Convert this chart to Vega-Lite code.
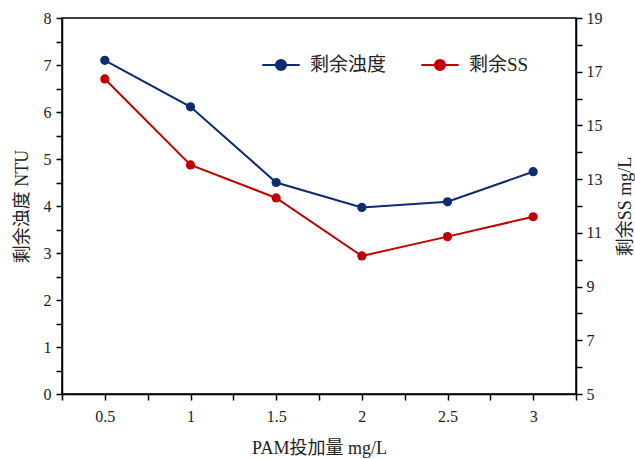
{
  "$schema": "https://vega.github.io/schema/vega-lite/v6.json",
  "width": 514,
  "height": 376,
  "autosize": {"type": "none"},
  "padding": {"left": 62, "top": 18, "right": 59, "bottom": 65},
  "background": "white",
  "config": {
    "font": "Liberation Serif, Noto Sans CJK SC",
    "view": {"stroke": "black", "strokeWidth": 1.5},
    "axis": {
      "domainColor": "black",
      "tickColor": "black",
      "labelColor": "#222222",
      "titleColor": "#222222",
      "labelFontSize": 16,
      "titleFontSize": 18,
      "titleFontWeight": "normal",
      "grid": false,
      "tickSize": 6,
      "domainWidth": 1.5,
      "tickWidth": 1.5,
      "labelFont": "Liberation Serif",
      "titleFont": "Liberation Serif, Noto Sans CJK SC"
    },
    "legend": {
      "labelFont": "Liberation Serif, Noto Sans CJK SC",
      "labelFontSize": 19,
      "labelColor": "#222222"
    }
  },
  "data": {
    "values": [
      {"dose": 0.5, "series": "剩余浊度", "value": 7.10},
      {"dose": 1.0, "series": "剩余浊度", "value": 6.11},
      {"dose": 1.5, "series": "剩余浊度", "value": 4.50},
      {"dose": 2.0, "series": "剩余浊度", "value": 3.97},
      {"dose": 2.5, "series": "剩余浊度", "value": 4.09},
      {"dose": 3.0, "series": "剩余浊度", "value": 4.73},
      {"dose": 0.5, "series": "剩余SS", "value": 16.73},
      {"dose": 1.0, "series": "剩余SS", "value": 13.53},
      {"dose": 1.5, "series": "剩余SS", "value": 12.30},
      {"dose": 2.0, "series": "剩余SS", "value": 10.14},
      {"dose": 2.5, "series": "剩余SS", "value": 10.86},
      {"dose": 3.0, "series": "剩余SS", "value": 11.60}
    ]
  },
  "encoding": {
    "x": {
      "field": "dose",
      "type": "quantitative",
      "scale": {"domain": [0.25, 3.25], "nice": false, "zero": false},
      "axis": {
        "title": "PAM投加量 mg/L",
        "values": [0.25, 0.5, 0.75, 1, 1.25, 1.5, 1.75, 2, 2.25, 2.5, 2.75, 3, 3.25],
        "labelExpr": "(datum.value * 2) % 1 === 0 ? '' + datum.value : ''",
        "labelPadding": 8,
        "titlePadding": 15
      }
    },
    "color": {
      "field": "series",
      "type": "nominal",
      "scale": {"domain": ["剩余浊度", "剩余SS"], "range": ["#0c2c6e", "#c00000"]},
      "legend": {
        "title": null,
        "orient": "none",
        "direction": "horizontal",
        "legendX": 199,
        "legendY": 27,
        "symbolType": "M-1,0L1,0M-0.27,0A0.27,0.27,0,1,1,0.27,0A0.27,0.27,0,1,1,-0.27,0Z",
        "symbolSize": 1400,
        "symbolStrokeWidth": 2,
        "labelOffset": 9,
        "columnPadding": 30,
        "encode": {
          "symbols": {"update": {"fill": {"scale": "color", "field": "value"}, "stroke": {"scale": "color", "field": "value"}}}
        }
      }
    }
  },
  "layer": [
    {
      "transform": [{"filter": "datum.series === '剩余浊度'"}],
      "mark": {"type": "line", "strokeWidth": 2, "point": {"filled": true, "size": 85}},
      "encoding": {
        "y": {
          "field": "value",
          "type": "quantitative",
          "scale": {"domain": [0, 8], "nice": false},
          "axis": {
            "orient": "left",
            "title": "剩余浊度 NTU",
            "values": [0, 0.5, 1, 1.5, 2, 2.5, 3, 3.5, 4, 4.5, 5, 5.5, 6, 6.5, 7, 7.5, 8],
            "labelExpr": "datum.value % 1 === 0 ? '' + datum.value : ''",
            "labelPadding": 5,
            "titlePadding": 12
          }
        }
      }
    },
    {
      "transform": [{"filter": "datum.series === '剩余SS'"}],
      "mark": {"type": "line", "strokeWidth": 2, "point": {"filled": true, "size": 85}},
      "encoding": {
        "y": {
          "field": "value",
          "type": "quantitative",
          "scale": {"domain": [5, 19], "nice": false, "zero": false},
          "axis": {
            "orient": "right",
            "title": "剩余SS mg/L",
            "titleAngle": 270,
            "titleBaseline": "top",
            "values": [5, 6, 7, 8, 9, 10, 11, 12, 13, 14, 15, 16, 17, 18, 19],
            "labelExpr": "(datum.value - 5) % 2 === 0 ? '' + datum.value : ''",
            "labelPadding": 4,
            "titlePadding": 14
          }
        }
      }
    }
  ],
  "resolve": {"scale": {"y": "independent"}}
}
